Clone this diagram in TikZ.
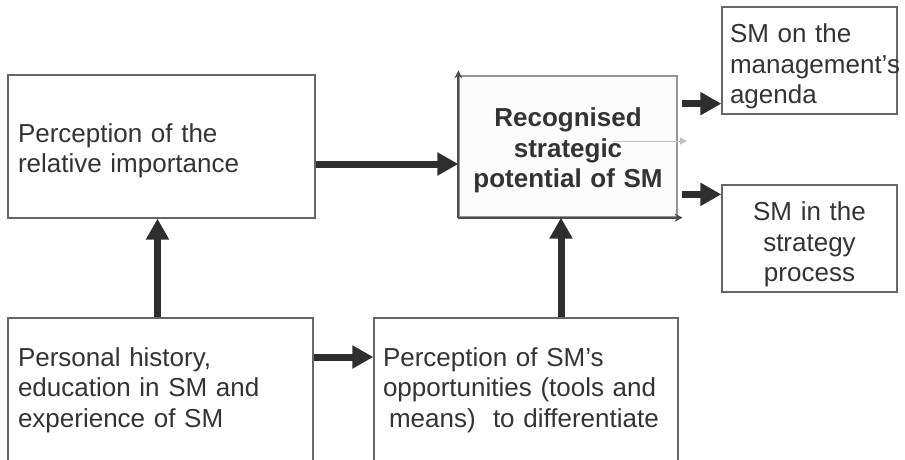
\documentclass[tikz,border=0pt]{standalone}
\usepackage{fontspec}
\setmainfont{Liberation Sans}
\usetikzlibrary{arrows.meta}

\definecolor{boxline}{HTML}{666666}
\definecolor{arrowdark}{HTML}{2E2E2E}
\definecolor{textgray}{HTML}{333333}

\def\boxh{143pt}
% invisible rule that lowers the text a little in its box
\newcommand{\padtop}[1]{\rule{0pt}{#1}}

\begin{document}
\begin{tikzpicture}[x=1pt,y=-1pt,font=\fontsize{26}{30.5}\selectfont,text=textgray]
    \tikzstyle{box}=[rectangle,draw=boxline,line width=1.3pt,inner xsep=10pt,inner ysep=0pt]
    \tikzstyle{left box}=[box,align=left]
    \tikzstyle{mid box}=[box,align=center]
    \tikzstyle{big arrow}=[draw=arrowdark,line width=7pt,-{Triangle[length=21pt,width=22pt]}]
    \tikzstyle{axis line}=[draw=arrowdark!85,line width=1.8pt,-{Stealth[length=8pt,width=8pt]}]
    \tikzstyle{faint arrow}=[draw=black!25,line width=1pt,-{Triangle[length=7pt,width=7pt]}]

    \useasboundingbox (0,0) rectangle (905,459);

    % Draw the boxes on the left and at the bottom
    \node[left box,text width=287pt,minimum height=\boxh] (imp) at (161.5,146.5)
        {\padtop{27.5pt}Perception of the\\relative importance};
    \node[left box,text width=285pt,minimum height=144pt] (hist) at (160.5,390)
        {Personal history,\\education in SM and\\experience of SM};
    \node[left box,inner xsep=9pt,text width=286pt,minimum height=144pt] (opp) at (526,390)
        {Perception of SM’s\\opportunities (tools and\\\hspace*{6pt}means)~~to differentiate};

    % Draw the central box
    \node[mid box,draw=boxline!70,fill=black!1,text width=198pt,minimum height=141pt,font=\fontsize{26}{30.5}\selectfont\bfseries] (pot) at (568,146.5)
        {\padtop{26.5pt}Recognised\\strategic\\potential of SM};
    \draw[axis line] (pot.south west) -- ([yshift=5pt]pot.north west);
    \draw[axis line] (pot.south west) -- ([xshift=5pt]pot.south east);

    % Draw the boxes on the right
    \node[left box,inner xsep=8pt,text width=159pt,minimum height=107pt] (agd) at (809.5,60.5)
        {\padtop{30.5pt}SM on the\\management’s\\agenda};
    \node[mid box,text width=155pt,minimum height=107pt] (proc) at (809.5,238.5)
        {\padtop{30.5pt}SM in the\\strategy\\process};

    % Connect the boxes
    \draw[big arrow] ([yshift=-17.5pt]imp.east) -- ([yshift=-17.5pt]imp.east -| pot.west);
    \draw[big arrow] ([yshift=33pt]hist.east) -- ([yshift=33pt]hist.east -| opp.west);
    \draw[big arrow] ([xshift=-3pt]hist.north) -- ([xshift=-3pt]hist.north |- imp.south);
    \draw[big arrow] ([xshift=-7pt]pot.south |- opp.north) -- ([xshift=-7pt]pot.south);
    \draw[big arrow] ([xshift=4pt,yshift=11pt]agd.south west -| pot.east) -- ([yshift=11pt]agd.south west);
    \draw[big arrow] ([xshift=4pt,yshift=-10pt]proc.north west -| pot.east) -- ([yshift=-10pt]proc.north west);

    % The faint arrow out of the central box
    \coordinate (f-start) at (613,141);
    \coordinate (f-end) at (687,141);
    \draw[faint arrow] (f-start) -- (f-end);
\end{tikzpicture}
\end{document}
